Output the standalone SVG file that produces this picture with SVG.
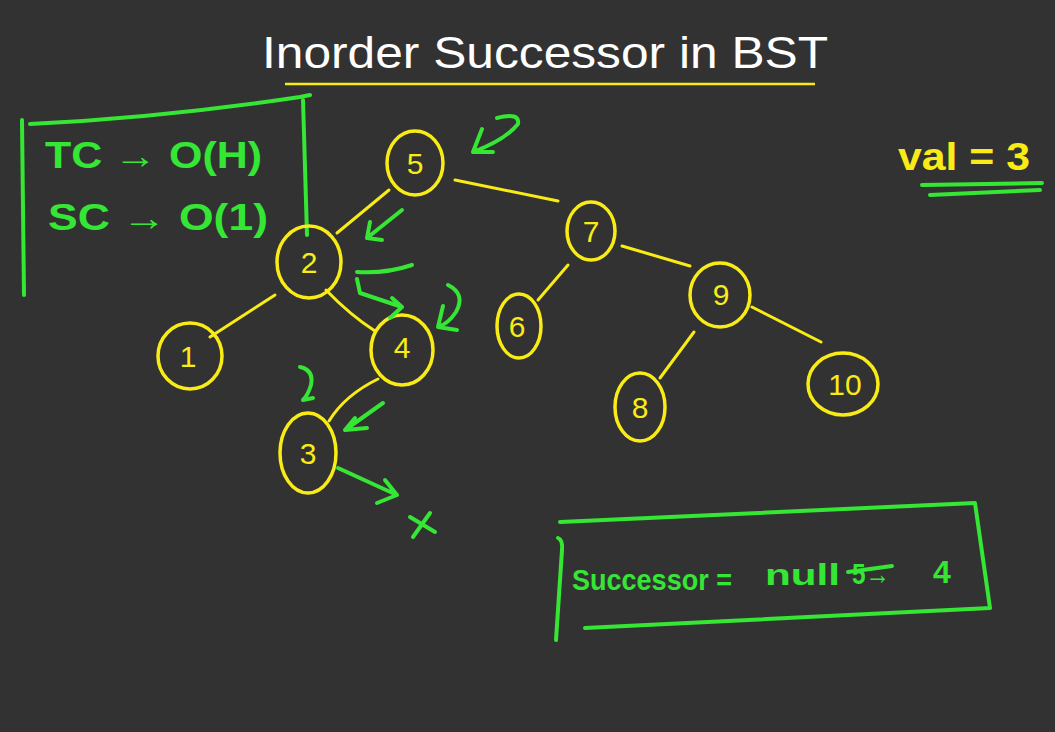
<svg xmlns="http://www.w3.org/2000/svg" width="1055" height="732" viewBox="0 0 1055 732">
<style>
.bg{fill:#323232}
.node{fill:none;stroke:#f9ec16;stroke-width:3.5}
.lbl{font-family:"Liberation Sans","DejaVu Sans",sans-serif;font-size:30px;fill:#f9ec16;text-anchor:middle}
.edge{fill:none;stroke:#f9ec16;stroke-width:3;stroke-linecap:round}
.g{fill:none;stroke:#35e635;stroke-width:4;stroke-linecap:round;stroke-linejoin:round}
.gt{font-family:"Liberation Sans","DejaVu Sans",sans-serif;fill:#35e635;font-weight:bold}
.yt{font-family:"Liberation Sans","DejaVu Sans",sans-serif;fill:#f9ec16;font-weight:bold}
.wt{font-family:"Liberation Sans","DejaVu Sans",sans-serif;fill:#ffffff}
</style>
<rect class="bg" x="0" y="0" width="1055" height="732"/>
<g id="title">
<text class="wt" x="262" y="68" font-size="44" textLength="566" lengthAdjust="spacingAndGlyphs">Inorder Successor in BST</text>
<line x1="285" y1="84" x2="815" y2="84" stroke="#f9ec16" stroke-width="2.5"/>
</g>
<g id="complexity">
<path class="g" d="M22 120 L24 295"/>
<path class="g" d="M30 124 Q160 118 300 97 L310 95"/>
<path class="g" d="M303 100 L307 235"/>
<text class="gt" x="45" y="168" font-size="36" textLength="217" lengthAdjust="spacingAndGlyphs">TC → O(H)</text>
<text class="gt" x="48" y="230" font-size="36" textLength="220" lengthAdjust="spacingAndGlyphs">SC → O(1)</text>
</g>
<g id="val">
<text class="yt" x="898" y="170" font-size="38" textLength="132" lengthAdjust="spacingAndGlyphs">val = 3</text>
<path class="g" d="M922 185 L1042 183 M930 195 L1040 190"/>
</g>
<g id="connectors">
<path class="edge" d="M389 190 L337 233"/>
<path class="edge" d="M455 180 L558 201"/>
<path class="edge" d="M622 246 L690 266"/>
<path class="edge" d="M568 265 L538 300"/>
<path class="edge" d="M694 332 L660 378"/>
<path class="edge" d="M752 307 L821 342"/>
<path class="edge" d="M275 295 L210 337" stroke-width="4"/>
<path class="edge" d="M326 290 Q350 315 375 331" stroke-width="4"/>
<path class="edge" d="M378 379 Q345 395 329 421"/>
</g>
<g id="node-5"><ellipse class="node" cx="415" cy="163" rx="28" ry="32"/><text class="lbl" x="415" y="174">5</text></g>
<g id="node-2"><ellipse class="node" cx="309" cy="262" rx="32" ry="36"/><text class="lbl" x="309" y="273">2</text></g>
<g id="node-4"><ellipse class="node" cx="402" cy="350" rx="31" ry="35"/><text class="lbl" x="402" y="358">4</text></g>
<g id="node-3"><ellipse class="node" cx="308" cy="453" rx="28" ry="40"/><text class="lbl" x="308" y="464">3</text></g>
<g id="node-1"><ellipse class="node" cx="190" cy="356" rx="32" ry="33"/><text class="lbl" x="188" y="367">1</text></g>
<g id="node-7"><ellipse class="node" cx="591" cy="231" rx="24" ry="29"/><text class="lbl" x="591" y="242">7</text></g>
<g id="node-6"><ellipse class="node" cx="519" cy="326" rx="22" ry="32"/><text class="lbl" x="517" y="337">6</text></g>
<g id="node-9"><ellipse class="node" cx="720" cy="295" rx="30" ry="32"/><text class="lbl" x="721" y="305">9</text></g>
<g id="node-8"><ellipse class="node" cx="640" cy="407" rx="25" ry="34"/><text class="lbl" x="640" y="418">8</text></g>
<g id="node-10"><ellipse class="node" cx="843" cy="384" rx="35" ry="31"/><text class="lbl" x="845" y="395">10</text></g>
<g id="traversal">
<path class="g" d="M497 118 Q520 112 518 124 Q505 140 473 152 M473 152 L482 129 M473 152 L493 152"/>
<path class="g" d="M402 210 L367 238 M367 238 L370 222 M367 238 L382 240"/>
<path class="g" d="M412 265 Q385 274 357 272"/>
<path class="g" d="M357 279 L360 293 L402 307 M402 307 L392 298 M402 307 L390 318"/>
<path class="g" d="M448 285 Q466 294 456 312 Q448 324 438 327 M438 327 L443 306 M438 327 L457 330"/>
<path class="g" d="M300 367 Q314 370 311 385 Q308 395 303 400 M303 400 L313 398" stroke-width="3"/>
<path class="g" d="M383 403 L345 430 M345 430 L355 418 M345 430 L367 428"/>
<path class="g" d="M338 468 L397 495 M397 495 L385 480 M397 495 L377 503"/>
<path class="g" d="M410 517 L435 532 M430 513 L413 537" stroke-width="3"/>
</g>
<g id="result">
<path class="g" d="M560 522 L975 503 L990 608 L585 628"/>
<path class="g" d="M558 538 Q563 540 562 550 L556 640"/>
<text class="gt" x="572" y="590" font-size="30" textLength="160" lengthAdjust="spacingAndGlyphs">Successor =</text>
<text class="gt" x="765" y="585" font-size="30" textLength="75" lengthAdjust="spacingAndGlyphs">null</text>
<text class="gt" x="852" y="584" font-size="30" textLength="38" lengthAdjust="spacingAndGlyphs">5→</text>
<path class="g" d="M848 572 L892 566" stroke-width="3"/>
<text class="gt" x="933" y="583" font-size="32">4</text>
</g>
</svg>
